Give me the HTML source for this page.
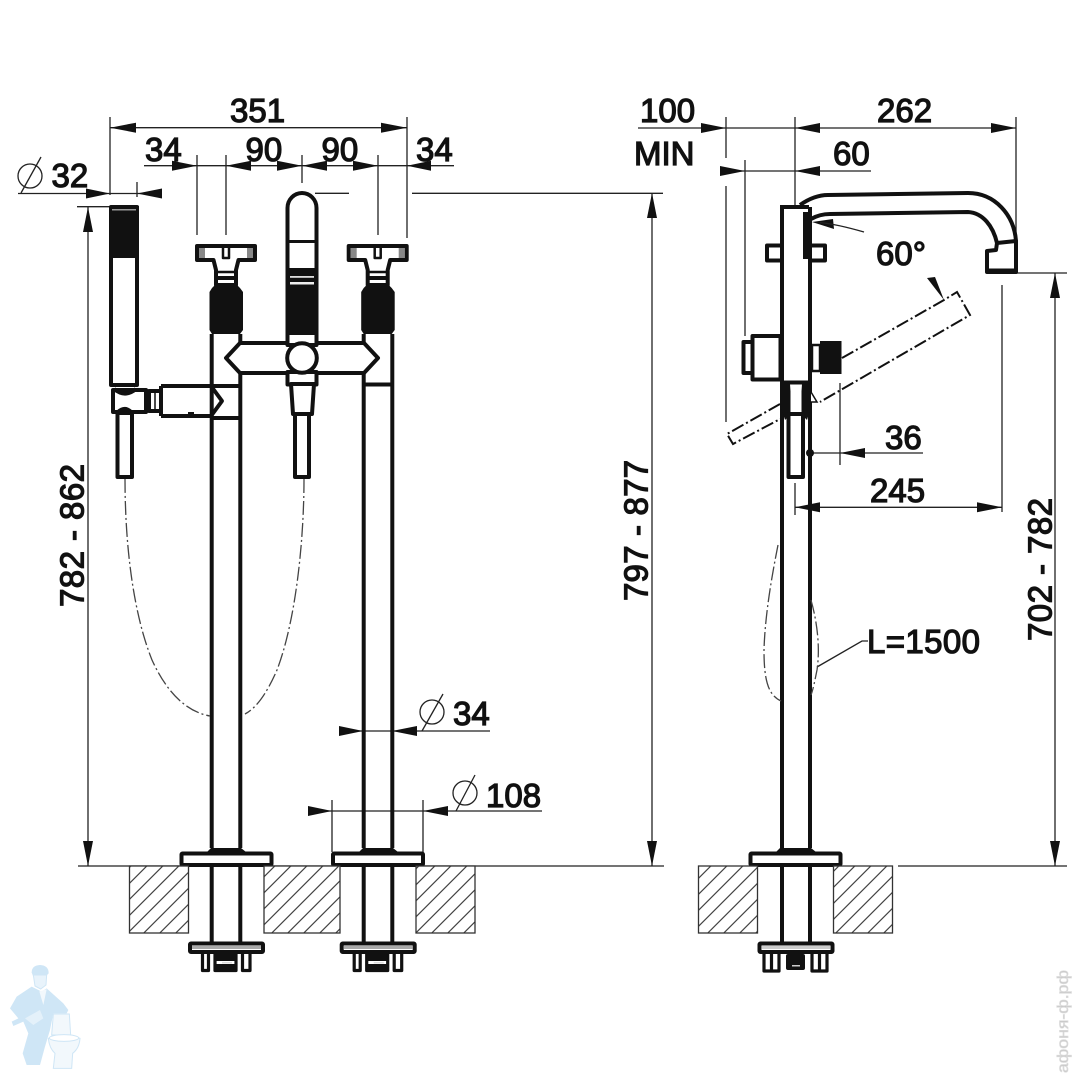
<!DOCTYPE html>
<html><head><meta charset="utf-8"><style>
html,body{margin:0;padding:0;background:#fff}
svg{display:block}
text{font-family:"Liberation Sans",sans-serif;font-size:33px;fill:#111;stroke:#111;stroke-width:1.25px}
.t{fill:none;stroke:#222;stroke-width:1.3}
.k{fill:none;stroke:#111;stroke-width:4;stroke-linejoin:round}
.w{fill:#fff;stroke:#111;stroke-width:4;stroke-linejoin:round}
.b{fill:#111;stroke:none}
.h{fill:url(#hatch);stroke:#333;stroke-width:1.3}
.h2{fill:url(#hatch2);stroke:#333;stroke-width:1.3}
.d{fill:none;stroke:#444;stroke-width:1.3;stroke-dasharray:14 3 2 3}
.dk{fill:none;stroke:#111;stroke-width:2;stroke-dasharray:13 3 2 3}
</style></head><body>
<svg width="1080" height="1080" viewBox="0 0 1080 1080" xmlns="http://www.w3.org/2000/svg">
<defs>
<pattern id="hatch" width="11.314" height="11.314" patternUnits="userSpaceOnUse" patternTransform="translate(130 866) rotate(-45)">
<rect width="11.314" height="11.314" fill="#fff"/><line x1="0" y1="0.500" x2="11.314" y2="0.500" stroke="#333" stroke-width="1.200"/>
</pattern>
<pattern id="hatch2" width="11.314" height="11.314" patternUnits="userSpaceOnUse" patternTransform="translate(134 866) rotate(-45)">
<rect width="11.314" height="11.314" fill="#fff"/><line x1="0" y1="0.500" x2="11.314" y2="0.500" stroke="#333" stroke-width="1.200"/>
</pattern>
<g id="ch">
<path class="w" d="M197 246H255V260H238.500L236 270V285H216V270L213.500 260H197Z"/>
<rect x="199" y="248" width="6" height="10" fill="#888"/>
<rect x="247" y="248" width="6" height="10" fill="#888"/>
<path class="k" d="M223 247V258H229V247" style="stroke-width:2.500"/>
<path class="k" d="M217 272H235" style="stroke-width:2.500"/>
<rect class="b" x="216" y="276" width="20" height="4"/>
<path class="b" d="M212 288L216 284H236L240 288L243 292V330L240 334H212L209.500 330V292Z"/>
</g>
<g id="fl">
<rect class="k" x="190" y="943.500" width="73" height="8.500" rx="1"/><rect x="192" y="946" width="69" height="3" fill="#aaa"/>
<path class="k" d="M202.500 953V970.500H208.500V953M215 953V970.500H236V953M242.500 953V970.500H250V953" style="stroke-width:3.200"/>
<rect class="b" x="215" y="954" width="21" height="7"/><rect class="b" x="215" y="964" width="21" height="6"/>
<rect x="222" y="962" width="10" height="1.500" fill="#ddd"/>
</g>
</defs>
<rect width="1080" height="1080" fill="#fff"/>

<!-- LEFT VIEW dimension lines -->
<path class="t" d="M110 127.700H407M110 117V195M407 117V238M144 165.700H454M197 155V235M226 155V235M302 155V183M378 155V235M18 193.500H162M137 182V197M315 193.300H349M412 193.300H663M77 206.700H110M88 207V866M652 193V866M78 866H180M272 866H332M424 866H664M339 731H490M332 800V852M423 800V852M308 811H542"/>
<g class="b">
<polygon points="110,127.700 136,122.700 136,132.700"/><polygon points="407,127.700 381,122.700 381,132.700"/>
<polygon points="197,165.700 172,160.700 172,170.700"/><polygon points="226,165.700 251,160.700 251,170.700"/>
<polygon points="302,165.700 277,160.700 277,170.700"/><polygon points="302,165.700 327,160.700 327,170.700"/>
<polygon points="378,165.700 353,160.700 353,170.700"/><polygon points="407,165.700 431,160.700 431,170.700"/>
<polygon points="110,193.500 86,188.500 86,198.500"/><polygon points="137,193.500 162,188.500 162,198.500"/>
<polygon points="88,207 83,232 93,232"/><polygon points="88,866 83,841 93,841"/>
<polygon points="652,193 647,218 657,218"/><polygon points="652,866 647,841 657,841"/>
<polygon points="363,731 339,726 339,736"/><polygon points="392,731 417,726 417,736"/>
<polygon points="332,811 308,806 308,816"/><polygon points="423,811 448,806 448,816"/>
</g>
<circle class="t" cx="30" cy="176" r="12"/><path class="t" d="M21 193L41 157"/>
<circle class="t" cx="432" cy="712" r="12"/><path class="t" d="M422 731L443 694"/>
<circle class="t" cx="465" cy="793" r="12"/><path class="t" d="M456 811L475 775"/>

<!-- LEFT VIEW: hand shower -->
<rect class="w" x="111" y="207" width="26" height="178"/>
<rect class="b" x="109" y="206" width="30" height="52"/>
<rect x="112" y="209" width="24" height="1.500" fill="#999"/>
<rect class="w" x="117.500" y="413" width="14.500" height="64"/>
<path class="w" d="M113 390H146V412H113Z"/>
<path class="k" d="M114 389Q125 398 136 389M118 412Q125 406 131 412"/>
<rect class="w" x="149" y="391" width="12" height="20"/><path class="k" d="M155 391V411" style="stroke-width:1.500"/>
<!-- stems -->
<path class="k" d="M211.700 334V848M240.300 334V343M240.300 373V848M363.700 334V343M363.700 373V848M392.300 334V848"/>
<path class="k" d="M161 386H240M161 416H211M212 418H240"/>
<path class="k" d="M161 386V416M211 386L222 401L211 416"/>
<rect class="b" x="188" y="412" width="6" height="4"/>
<path class="k" d="M364 384.500H392"/>
<!-- body -->
<path class="w" d="M240 343H364L378 358L364 373H240L226 358Z"/>
<!-- spout column -->
<path class="w" d="M287.500 345V208A14.500 15 0 0 1 316.500 208V345Z"/>
<path class="k" d="M288 241.500H316" style="stroke-width:3"/>
<rect class="b" x="286.500" y="268" width="31" height="67"/>
<rect x="290" y="276" width="24" height="1.800" fill="#ddd"/>
<rect x="290" y="282" width="24" height="2.500" fill="#eee"/>
<rect class="w" x="287.500" y="372" width="29" height="12.500"/>
<path class="w" d="M291 384L293 414H312L314 384Z"/>
<rect class="w" x="295" y="414" width="14" height="63"/>
<circle class="w" cx="302" cy="358" r="14.800"/>
<!-- cross handles -->
<use href="#ch"/>
<use href="#ch" x="151.700"/>
<!-- hose left -->
<path class="d" d="M125 479C125 540 132 610 152 660C168 695 188 712 210 716"/>
<path class="d" d="M304 479C304 540 296 620 277 670C266 695 256 708 245 714"/>

<!-- bases left view -->
<path class="b" d="M207 852L211 848H241L246 852Z"/><path class="b" d="M359 852L363 848H393L398 852Z"/>
<rect class="w" x="181.500" y="853.500" width="90" height="11.500" rx="1"/>
<rect class="w" x="333" y="853.500" width="90" height="11.500" rx="1"/>
<rect class="h" x="129.500" y="866" width="59" height="67"/>
<rect class="h" x="264" y="866" width="76" height="67"/>
<rect class="h" x="416" y="866" width="59" height="67"/>
<path class="k" d="M211.700 866V943M240.300 866V943M363.700 866V943M392.300 866V943"/>
<use href="#fl"/>
<use href="#fl" x="151.700"/>

<!-- RIGHT VIEW dimension lines -->
<path class="t" d="M638 128H1016M726 117V158M726 186V422M795 117V205M1016 117V241M720 171H871M745 160V336M1016 273H1067M1055 273V866M1002 285V512M795 483V515M840 383V465M810 453H923M795 507.300H1002M898 866H1067"/>
<g class="b">
<polygon points="726,128 701,123 701,133"/><polygon points="795,128 820,123 820,133"/><polygon points="1016,128 991,123 991,133"/>
<polygon points="745,171 720,166 720,176"/><polygon points="795,171 820,166 820,176"/>
<polygon points="1055,273 1050,298 1060,298"/><polygon points="1055,866 1050,841 1060,841"/>
<polygon points="840,453 865,448 865,458"/><circle cx="810" cy="453" r="4"/>
<polygon points="795,507.300 820,502.300 820,512.300"/><polygon points="1002,507.300 977,502.300 977,512.300"/>
<polygon points="812,222 833,219 834,229"/><polygon points="927,278 935,277 944,300"/>
</g>
<path class="t" d="M820 222.500C835 224 850 228 864 232"/>
<path class="t" d="M817 667L862 641H868"/>
<!-- handle dash-dot -->
<path class="dk" d="M842 358L944 300L957 292L970 315L820 402M780 404L727 434L733 444L782 418"/>
<!-- right body -->
<rect class="w" x="767" y="245.500" width="58" height="15"/>
<path class="k" d="M782 207V848M810 207V848"/>
<rect fill="#fff" x="784" y="209" width="24" height="172"/>
<path class="k" d="M780 207H809"/>
<path class="k" d="M800 205C810 198 820 195 828 195L968 193C995 193 1014 215 1016 241"/>
<path class="k" d="M811 219C818 215 824 214 830 214L968 212C983 213 993 226 997 243"/>
<path class="w" d="M997 243L1016 241V272H987V251L996 250Z"/>
<rect class="b" x="987" y="268.500" width="30" height="5"/>
<rect class="b" x="803" y="212" width="8" height="47"/>
<rect class="w" x="743.500" y="342" width="9" height="31"/>
<rect class="w" x="752.500" y="336" width="28" height="43.500"/>
<rect class="k" x="812" y="345" width="8" height="26" style="stroke-width:2.500"/>
<rect class="b" x="820" y="341" width="21.500" height="33"/>
<path class="k" d="M781 382.500H811"/>
<path class="b" d="M780 384H790L792 413L785 420L780 404ZM812 384H802L800 413L807 420L812 404Z"/>
<path d="M811 392L817 402H811" fill="#fff" stroke="#111" stroke-width="1.500"/>
<path class="w" d="M788.500 414H803V477H788.500Z"/>
<rect fill="#fff" x="790.500" y="388" width="11" height="24"/>
<!-- hose -->
<path class="d" d="M778 545C772 575 765 615 764 650C764 680 768 695 781 701"/>
<path class="d" d="M811 600C818 625 820 650 817 670C815 680 813 690 811 695"/>
<path class="b" d="M776 852L780 848H811L816 852Z"/>
<rect class="w" x="750.500" y="853.500" width="90" height="11.500" rx="1"/>
<rect class="h2" x="698.500" y="866" width="59" height="67"/>
<rect class="h2" x="833.500" y="866" width="59" height="67"/>
<path class="k" d="M782 866V943M810 866V943"/>
<rect class="k" x="759.500" y="943.500" width="73" height="8.500" rx="1"/><rect x="762" y="946" width="68" height="3" fill="#ccc"/>
<path class="k" d="M764 953V971H779V953M771.500 953V971M812 953V971H827V953M819.500 953V971" style="stroke-width:3.200"/>
<rect class="b" x="786" y="954" width="19" height="16" rx="2"/><rect x="792" y="965" width="8" height="1.500" fill="#ccc"/>

<!-- labels -->
<text x="230" y="122">351</text>
<text x="145" y="161">34</text>
<text x="245.500" y="161">90</text>
<text x="321.500" y="161">90</text>
<text x="416" y="161">34</text>
<text x="51.500" y="187">32</text>
<text x="453" y="725">34</text>
<text x="486" y="807">108</text>
<text transform="translate(83.500 607) rotate(-90)" textLength="143" lengthAdjust="spacing">782 - 862</text>
<text transform="translate(647.500 601) rotate(-90)" textLength="141" lengthAdjust="spacing">797 - 877</text>
<text transform="translate(1051.500 641) rotate(-90)" textLength="143" lengthAdjust="spacing">702 - 782</text>
<text x="640" y="122">100</text>
<text x="634" y="165">MIN</text>
<text x="877" y="122">262</text>
<text x="833" y="165">60</text>
<text x="876" y="265">60°</text>
<text x="885" y="449">36</text>
<text x="870" y="502">245</text>
<text x="867" y="653" textLength="113" lengthAdjust="spacing">L=1500</text>

<!-- watermark figure -->
<g transform="translate(0 950) scale(.3333)">
<path d="M95 68Q95 46 120 45Q146 46 146 70L140 76L100 80Z" fill="#cfe6f6"/>
<path d="M100 75L140 75L138 105L122 117L105 108Z" fill="#e8f3fb" stroke="#cfe6f6" stroke-width="3"/>
<path d="M95 110L125 125L140 115L190 160L205 180L200 190L160 190L150 240L135 290L120 345L80 345L68 310L85 250L70 215L40 228L35 215L55 205L30 175L50 140Z" fill="#cfe6f6"/>
<path d="M118 124L140 118L130 165Z" fill="#f2f8fc"/>
<path d="M75 205L120 180L130 205L100 225Z" fill="#e4f1fa"/>
<path d="M160 192H208L212 255H155Z" fill="#f2f8fc" stroke="#cfe6f6" stroke-width="3"/>
<path d="M145 265Q190 245 240 265Q238 295 218 310L215 355H160L165 310Q148 295 145 265Z" fill="#f2f8fc" stroke="#cfe6f6" stroke-width="3"/>
<ellipse cx="192" cy="264" rx="44" ry="10" fill="#fff" stroke="#cfe6f6" stroke-width="3"/>
</g>
<text transform="translate(1068 1073) rotate(-90)" textLength="103" lengthAdjust="spacingAndGlyphs" style="font-size:16px;fill:#c8c8c8;stroke:#ddd;stroke-width:.7px">афоня-ф.рф</text>
</svg>
</body></html>
